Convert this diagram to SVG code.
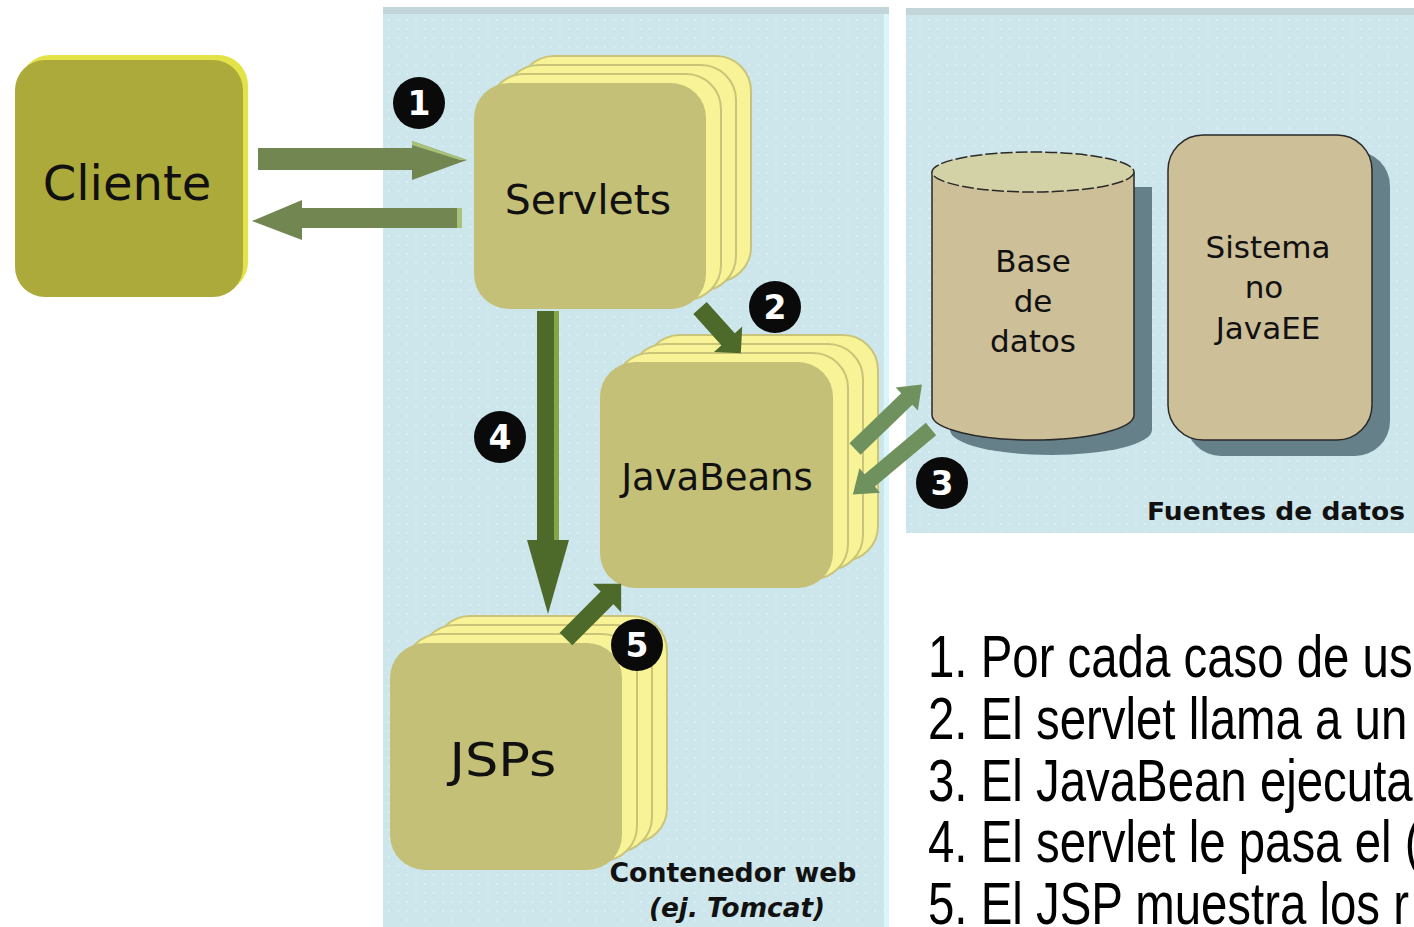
<svg xmlns="http://www.w3.org/2000/svg" width="1414" height="927" viewBox="0 0 1414 927">
<defs>
<pattern id="dots" width="9" height="9" patternUnits="userSpaceOnUse"><circle cx="2" cy="2" r="0.8" fill="#ffffff" opacity="0.55"/></pattern>
<style>
.panel{fill:#cde6eb}
.dots{fill:url(#dots)}
.back{fill:#f7f396;stroke:#c9c47a;stroke-width:2}
.front{fill:#c5c077}
.lbl{font-family:"DejaVu Sans",Verdana,sans-serif;fill:#111;text-anchor:middle}
.cap{font-family:"DejaVu Sans",Verdana,sans-serif;font-weight:bold;fill:#111}
.num{font-family:"DejaVu Sans",Verdana,sans-serif;font-weight:bold;fill:#fff;text-anchor:middle;font-size:33px}
.badge{fill:#0a0a0a}
.a1{fill:#728652}
.a2{fill:#4e6a2a}
.a3{fill:#6f915d}
.hl1{fill:#a9c27a}
.hl2{fill:#86a645}
.shadow{fill:#66808a}
.ds{fill:#cdbf98;stroke:#2a2a2a;stroke-width:1.5}
.list{font-family:"Liberation Sans Narrow","Liberation Sans",Arial,sans-serif;font-size:60px;fill:#000}
</style>
</defs>
<rect width="1414" height="927" fill="#ffffff"/>

<g id="contenedor-web">
<rect class="panel" x="383" y="7" width="506" height="920"/>
<rect class="dots" x="383" y="7" width="506" height="920"/>
<rect x="383" y="7" width="506" height="7" fill="#c2d5d9"/>
<rect x="884" y="14" width="5" height="913" fill="#d8f6fb"/>
<text class="cap" x="733" y="882" font-size="26" text-anchor="middle" textLength="247" lengthAdjust="spacingAndGlyphs">Contenedor web</text>
<text class="cap" x="737" y="917" font-size="26" font-style="italic" text-anchor="middle" textLength="176" lengthAdjust="spacingAndGlyphs">(ej. Tomcat)</text>
</g>

<g id="fuentes-de-datos">
<rect class="panel" x="906" y="8" width="508" height="525"/>
<rect class="dots" x="906" y="8" width="508" height="525"/>
<rect x="906" y="8" width="508" height="7" fill="#c2d5d9"/>
<text class="cap" x="1405" y="520" font-size="25" text-anchor="end" textLength="258" lengthAdjust="spacingAndGlyphs">Fuentes de datos</text>
</g>

<g id="cliente">
<rect x="20" y="55" width="228" height="237" rx="30" fill="#e4e249"/>
<rect x="15" y="60" width="228" height="237" rx="30" fill="#adaa3c"/>
<text class="lbl" x="127" y="200" font-size="48">Cliente</text>
</g>

<g id="servlets">
<rect class="back" x="519" y="56" width="232" height="226" rx="35"/>
<rect class="back" x="504" y="65" width="232" height="226" rx="35"/>
<rect class="back" x="489" y="74" width="232" height="226" rx="35"/>
<rect class="front" x="474" y="83" width="232" height="226" rx="35"/>
<text class="lbl" x="588" y="214" font-size="41">Servlets</text>
</g>

<g id="javabeans">
<rect class="back" x="645" y="335" width="233" height="226" rx="35"/>
<rect class="back" x="630" y="344" width="233" height="226" rx="35"/>
<rect class="back" x="615" y="353" width="233" height="226" rx="35"/>
<rect class="front" x="600" y="362" width="233" height="226" rx="35"/>
<text class="lbl" x="717" y="490" font-size="37">JavaBeans</text>
</g>

<g id="jsps">
<rect class="back" x="435" y="616" width="232" height="227" rx="35"/>
<rect class="back" x="420" y="625" width="232" height="227" rx="35"/>
<rect class="back" x="405" y="634" width="232" height="227" rx="35"/>
<rect class="front" x="390" y="643" width="232" height="227" rx="35"/>
<text class="lbl" x="503" y="776" font-size="46" textLength="107" lengthAdjust="spacingAndGlyphs">JSPs</text>
</g>

<g id="base-de-datos">
<path class="shadow" d="M950,187 V430 A101,25 0 0 0 1152,430 V187 Z"/>
<path class="ds" d="M932,172 V415 A101,25 0 0 0 1134,415 V172"/>
<ellipse cx="1033" cy="172" rx="101" ry="20" fill="#d3d1a6" stroke="#2a2a2a" stroke-width="1.5" stroke-dasharray="12 3"/>
<text class="lbl" x="1033" y="272" font-size="31">Base</text>
<text class="lbl" x="1033" y="312" font-size="31">de</text>
<text class="lbl" x="1033" y="352" font-size="31">datos</text>
</g>

<g id="sistema-no-javaee">
<rect class="shadow" x="1186" y="151" width="204" height="305" rx="35"/>
<rect class="ds" x="1168" y="135" width="204" height="305" rx="35"/>
<text class="lbl" x="1268" y="258" font-size="31">Sistema</text>
<text class="lbl" x="1264" y="298" font-size="31">no</text>
<text class="lbl" x="1268" y="339" font-size="31">JavaEE</text>
</g>

<g id="connectors">
<polygon class="a1" points="258,148 412,148 412,141 467,160 412,180 412,170 258,170"/>
<polygon class="hl1" points="412,141 467,160 460,160 412,145"/>
<polygon class="a1" points="462,208 302,208 302,200 252,221 302,240 302,228 462,228"/>
<rect class="hl1" x="457" y="208" width="5" height="20"/>
<polygon class="a2" points="537,311 559,311 559,540 569,540 548,614 527,540 537,540"/>
<rect class="hl2" x="554" y="311" width="5" height="229"/>
<g transform="translate(700,308) rotate(48)">
<polygon class="a2" points="0,-9 42,-9 42,-19 61,0 42,19 42,9 0,9"/>
</g>
<g transform="translate(566,639) rotate(-45)">
<polygon class="a2" points="0,-9 58,-9 58,-20 78,0 58,20 58,9 0,9"/>
</g>
<g transform="translate(855,449) rotate(-44)">
<polygon class="a3" points="0,-8 72,-8 72,-16 93,0 72,16 72,8 0,8"/>
</g>
<g transform="translate(931,429) rotate(140)">
<polygon class="a3" points="0,-8 80,-8 80,-16 102,0 80,16 80,8 0,8"/>
</g>
</g>

<g id="badges">
<circle class="badge" cx="419" cy="103" r="26"/><text class="num" x="419" y="115">1</text>
<circle class="badge" cx="775" cy="307" r="26"/><text class="num" x="775" y="319">2</text>
<circle class="badge" cx="942" cy="483" r="26"/><text class="num" x="942" y="495">3</text>
<circle class="badge" cx="500" cy="437" r="26"/><text class="num" x="500" y="449">4</text>
<circle class="badge" cx="637" cy="645" r="26"/><text class="num" x="637" y="657">5</text>
</g>

<g id="pasos" transform="translate(928,0) scale(0.79,1)">
<text class="list" x="0" y="677">1. Por cada caso de us</text>
<text class="list" x="0" y="739">2. El servlet llama a un</text>
<text class="list" x="0" y="801">3. El JavaBean ejecuta</text>
<text class="list" x="0" y="862">4. El servlet le pasa el (</text>
<text class="list" x="0" y="924">5. El JSP muestra los r</text>
</g>
</svg>
